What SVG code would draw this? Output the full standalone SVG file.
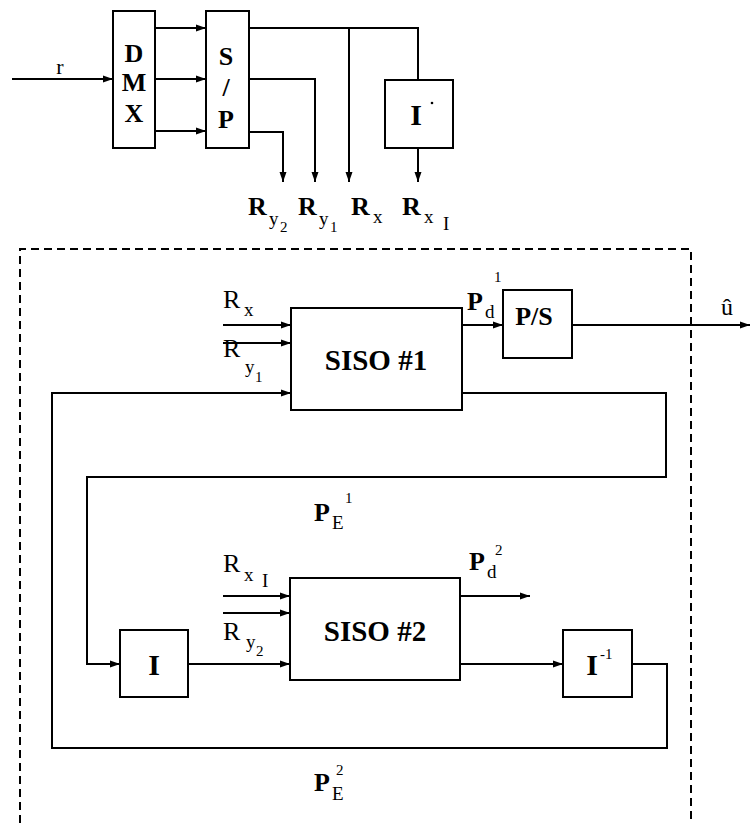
<svg xmlns="http://www.w3.org/2000/svg" width="751" height="823" viewBox="0 0 751 823">
<defs>
<marker id="ah" markerUnits="userSpaceOnUse" markerWidth="11" markerHeight="8" refX="10" refY="4" orient="auto">
<path d="M0,0.5 L10,4 L0,7.5 z" fill="#000"/>
</marker>
<style>
.box{fill:#fff;stroke:#000;stroke-width:2}
.ln{fill:none;stroke:#000;stroke-width:2}
.ar{fill:none;stroke:#000;stroke-width:2;marker-end:url(#ah)}
.dash{fill:none;stroke:#000;stroke-width:2;stroke-dasharray:8 5}
text{fill:#000;font-family:"Liberation Serif","DejaVu Serif",serif}
.b{font-weight:bold}
.big{font-size:26px;font-weight:bold}
.lab{font-size:26px;font-weight:bold}
.sub{font-size:19px}
.sup{font-size:15px}
</style>
</defs>
<rect width="751" height="823" fill="#fff"/>

<path class="dash" d="M20,823 V249 H691 V823"/>

<g id="connectors">
<path class="ar" d="M12,79 H113"/>
<path class="ar" d="M155,28 H206"/>
<path class="ar" d="M155,79 H206"/>
<path class="ar" d="M155,131 H206"/>
<path class="ln" d="M249,28 H418 V80"/>
<path class="ar" d="M349,28 V182"/>
<path class="ar" d="M249,79 H315 V182"/>
<path class="ar" d="M249,132 H283 V182"/>
<path class="ar" d="M418,148 V182"/>
<path class="ar" d="M223,325 H291"/>
<path class="ar" d="M223,343 H291"/>
<path class="ar" d="M462,325 H503"/>
<path class="ar" d="M572,325 H750"/>
<path class="ar" d="M462,393 H666 V477 H87 V664 H120"/>
<path class="ar" d="M188,664 H290"/>
<path class="ar" d="M223,596 H290"/>
<path class="ar" d="M223,613 H290"/>
<path class="ar" d="M460,596 H530"/>
<path class="ar" d="M460,664 H563"/>
<path class="ar" d="M632,664 H667 V748 H52 V393 H291"/>
</g>

<g id="dmx">
<rect class="box" x="113" y="11" width="42" height="137"/>
<text class="big" x="134" y="62" text-anchor="middle">D</text>
<text class="big" x="134" y="91" text-anchor="middle">M</text>
<text class="big" x="134" y="122" text-anchor="middle">X</text>
</g>
<g id="sp">
<rect class="box" x="206" y="11" width="43" height="137"/>
<text class="big" x="226" y="65" text-anchor="middle">S</text>
<text class="big" x="226" y="96" text-anchor="middle">/</text>
<text class="big" x="226" y="128" text-anchor="middle">P</text>
</g>
<g id="interleaver_top">
<rect class="box" x="385" y="80" width="68" height="68"/>
<text class="big" x="416" y="125" text-anchor="middle" style="font-size:30px">I</text>
<circle cx="432" cy="103" r="1.3" fill="#000"/>
</g>
<g id="label_r"><text x="60" y="74" text-anchor="middle" style="font-size:22px">r</text></g>

<g id="top_labels">
<text class="lab" x="248" y="215">R</text><text class="sub" x="269" y="225">y</text><text class="sup" x="280" y="232">2</text>
<text class="lab" x="298" y="215">R</text><text class="sub" x="319" y="225">y</text><text class="sup" x="330" y="232">1</text>
<text class="lab" x="351" y="215">R</text><text class="sub" x="373" y="223">x</text>
<text class="lab" x="402" y="215">R</text><text class="sub" x="424" y="223">x</text><text class="sub" x="443" y="230">I</text>
</g>

<g id="siso1">
<rect class="box" x="291" y="308" width="171" height="102"/>
<text class="b" x="376" y="370" text-anchor="middle" style="font-size:29px">SISO #1</text>
</g>
<g id="ps">
<rect class="box" x="503" y="290" width="69" height="68"/>
<text class="b" x="534" y="325" text-anchor="middle" style="font-size:26px">P/S</text>
</g>
<g id="siso1_labels">
<text x="223" y="308" style="font-size:26px">R</text><text class="sub" x="244" y="316">x</text>
<text x="223" y="357" style="font-size:26px">R</text><text class="sub" x="245" y="373">y</text><text class="sup" x="255" y="382">1</text>
<text class="lab" x="467" y="310">P</text><text class="sub" x="485" y="318">d</text><text class="sup" x="494" y="282">1</text>
<text x="727" y="315" text-anchor="middle" style="font-size:24px">û</text>
</g>

<g id="pe1"><text class="lab" x="314" y="521">P</text><text class="sub" x="332" y="529">E</text><text class="sup" x="345" y="503">1</text></g>

<g id="siso2">
<rect class="box" x="290" y="578" width="170" height="102"/>
<text class="b" x="375" y="641" text-anchor="middle" style="font-size:29px">SISO #2</text>
</g>
<g id="interleaver">
<rect class="box" x="120" y="630" width="68" height="67"/>
<text class="b" x="154" y="675" text-anchor="middle" style="font-size:30px">I</text>
</g>
<g id="deinterleaver">
<rect class="box" x="563" y="630" width="69" height="67"/>
<text class="b" x="592" y="675" text-anchor="middle" style="font-size:30px">I</text><text class="sup" x="600" y="659">-1</text>
</g>
<g id="siso2_labels">
<text x="223" y="572" style="font-size:26px">R</text><text class="sub" x="244" y="581">x</text><text class="sub" x="262" y="587">I</text>
<text x="223" y="640" style="font-size:26px">R</text><text class="sub" x="246" y="648">y</text><text class="sup" x="256" y="656">2</text>
<text class="lab" x="469" y="570">P</text><text class="sub" x="487" y="578">d</text><text class="sup" x="495" y="555">2</text>
</g>

<g id="pe2"><text class="lab" x="314" y="791">P</text><text class="sub" x="332" y="800">E</text><text class="sup" x="336" y="775">2</text></g>
</svg>
